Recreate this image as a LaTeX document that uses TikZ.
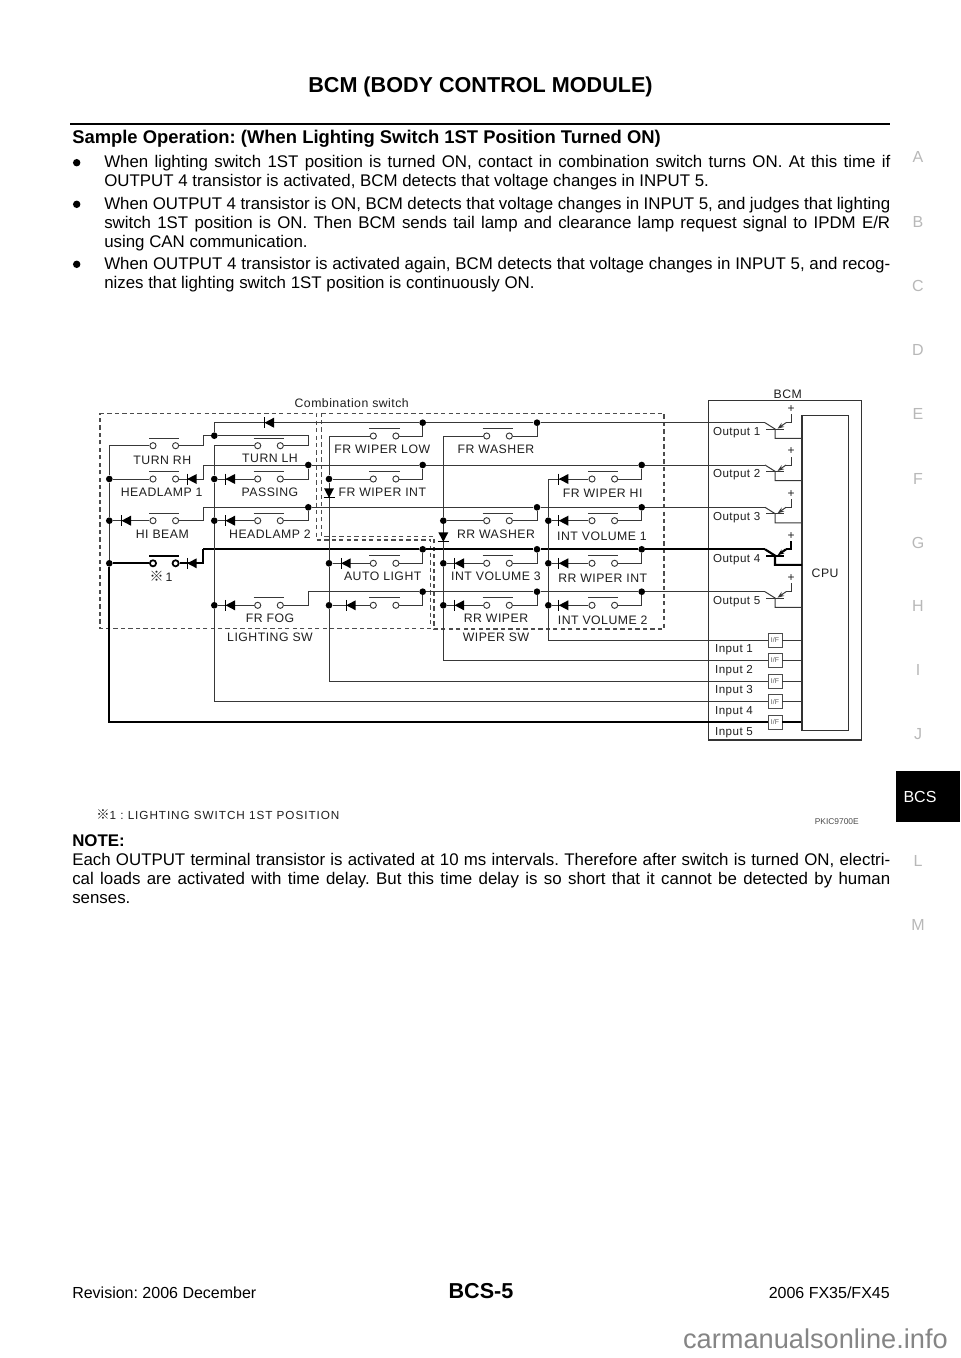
\documentclass[tikz,border=0pt]{standalone}
\usepackage{fontspec}
\usepackage{xcolor}
\usetikzlibrary{calc}
\usetikzlibrary{arrows.meta}
\setmainfont{Liberation Sans}
\newfontfamily\labfont[LetterSpace=4]{Liberation Sans}
\newfontfamily\capfont[LetterSpace=8]{Liberation Sans}
\newfontfamily\markfont{Noto Sans CJK SC}
\AtBeginDocument{\frenchspacing}
\tikzset{
  wire/.style={draw=black!78,line width=0.75pt},
  heavywire/.style={draw=black,line width=1.6pt},
  swbox/.style={draw=black!70,line width=0.8pt,dash pattern=on 3.2pt off 2.4pt},
  term/.style={circle,draw=black!78,fill=white,inner sep=0pt,minimum size=4.6pt,line width=0.7pt},
  heavyterm/.style={term,draw=black,line width=1.3pt},
  joint/.style={circle,fill=black,inner sep=0pt,minimum size=5pt},
  lab/.style={inner sep=0pt,text=black!88,font=\labfont\fontsize{9.2}{10}\selectfont},
  iolab/.style={inner sep=0pt,text=black!88,font=\labfont\fontsize{8.7}{10}\selectfont},
  ifbox/.style={draw=black!70,fill=white,inner sep=0pt,minimum size=10.5pt,line width=0.7pt,text=black!65,font=\fontsize{5.2}{6}\selectfont},
  side/.style={inner sep=0pt,text=black!28,font=\fontsize{12}{14}\selectfont},
  txt/.style={anchor=base west,inner sep=0pt,font=\fontsize{12}{14.25}\selectfont},
  para/.style={anchor=north west,inner sep=0pt,align=justify,font=\fontsize{12.65}{14.25}\selectfont},
  hdg/.style={anchor=base west,inner sep=0pt,font=\bfseries\fontsize{13.8}{16}\selectfont},
  bullet/.style={circle,fill=black,inner sep=0pt,minimum size=5.6pt}
}
% pair of contacts with the bar over them
\def\contact[#1](#2)(#3,#4){
  \node[#1] (#2a) at (#3,#4) {};
  \node[#1] (#2b) at (#3+22.6,#4) {};
  \draw[wire,#1wire] ($(#2a)+(-4,-7.4)$) -- ($(#2b)+(3.6,-7.4)$);
}
\tikzset{termwire/.style={},heavytermwire/.style={heavywire,line width=1.3pt}}
\def\diode(#1)(#2){\begin{scope}[shift={(#1)},rotate=#2]
  \fill[black] (-4.5,0) -- (5,-5) -- (5,5) -- cycle;
  \draw[black,line width=0.8pt] (-4.5,-5.5) -- (-4.5,5.5);
\end{scope}}
\def\transistor[#1](#2)(#3){
  \coordinate (#2) at (765,#3);
  \draw[#1] (766,#3+6.3) -- (784,#3+6.3);
  \draw[#1] (#2) -- (775,#3+6.3) -- (775,#3+15.6) -- (802,#3+15.6);
  \draw[#1] (786,#3) -- (791,#3) -- (791,#3-8.4);
  \draw[#1,-{Stealth[length=5pt,width=3.6pt]}] (786,#3) -- (777.5,#3+6);
  \node[lab,font=\fontsize{9}{10}\selectfont] (#2plus) at (791,#3-13.6) {+};
}

\begin{document}
\begin{tikzpicture}[x=0.75pt,y=-0.75pt]
  \path[use as bounding box,fill=white] (0,0) rectangle (960,1358);
  % page head
  \node[anchor=base,inner sep=0pt,font=\bfseries\fontsize{16.2}{18}\selectfont] (title) at (480.5,92.7) {BCM (BODY CONTROL MODULE)};
  \coordinate (ruleL) at (70,124.3);
  \coordinate (ruleR) at (890,124.3);
  \draw[line width=1.5pt] (ruleL) -- (ruleR);
  \node[hdg] (head) at (72,144) {Sample Operation: (When Lighting Switch 1ST Position Turned ON)};
  \node[bullet] (b1) at (76.7,162.7) {};
  \node[bullet] (b2) at (76.7,204.3) {};
  \node[bullet] (b3) at (76.7,264.3) {};
  \node[para,text width=589.5pt] (p1) at (104,154.4) {\strut When lighting switch 1ST position is turned ON, contact in combination switch turns ON. At this time if\linebreak OUTPUT 4 transistor is activated, BCM detects that voltage changes in INPUT 5.};
  \node[para,text width=589.5pt] (p2) at (104,196) {\strut When OUTPUT 4 transistor is ON, BCM detects that voltage changes in INPUT 5, and judges that lighting\linebreak switch 1ST position is ON. Then BCM sends tail lamp and clearance lamp request signal to IPDM E/R\linebreak using CAN communication.};
  \node[para,text width=589.5pt] (p3) at (104,256) {\strut When OUTPUT 4 transistor is activated again, BCM detects that voltage changes in INPUT 5, and recog-\linebreak nizes that lighting switch 1ST position is continuously ON.};
  % side index
  \foreach \s/\ly in {A/157,B/222,C/286,D/350,E/414,F/479,G/543,H/606,I/670,J/734,L/861,M/925}
    \node[side] (idx\s) at (918,\ly) {\s};
  \fill[black] (896,771) rectangle (960,822);
  \node[side,text=white] (idxBCS) at (920,797) {BCS};

  % dashed switch housings
  \draw[swbox] (100,413.3) -- (316.7,413.3) -- (316.7,540) -- (430.7,540) -- (430.7,628.3) -- (100,628.3) -- cycle;
  \draw[swbox] (321.7,413.3) -- (664,413.3) -- (664,629) -- (434,629) -- (434,536.7) -- (321.7,536.7) -- cycle;
  \node[lab] (comb) at (351.7,402.7) {Combination switch};

  % BCM
  \node[draw=black!80,line width=0.8pt,minimum width=115.05pt,minimum height=254.5pt,inner sep=0pt] (bcm) at (785,570.35) {};
  \node[lab] (bcmlab) at (787.7,394.7) {BCM};
  \node[draw=black!80,line width=0.8pt,minimum width=34.7pt,minimum height=236.5pt,inner sep=0pt,lab] (cpu) at (825.15,572.85) {CPU};
  \foreach \n/\ty/\st in {1/422.7/wire,2/465/wire,3/507.3/wire,4/549.3/heavywire,5/591.7/wire}{
    \transistor[\st](t\n)(\ty)
    \node[iolab] (out\n) at (736.7,\ty+10) {Output \n};
  }
  \foreach \n/\iy in {1/640,2/660.3,3/681,4/701.7,5/722.3}{
    \node[ifbox] (if\n) at (775,\iy) {I/F};
    \node[iolab] (in\n) at (734,\iy+10) {Input \n};
  }

  % contacts
  \contact[term](turnrh)(153,445.7)
  \contact[term](headA)(153,479)
  \contact[term](hibeam)(153,520.7)
  \contact[heavyterm](first)(153,563.3)
  \contact[term](turnlh)(257.7,445.7)
  \contact[term](passing)(257.7,479)
  \contact[term](headB)(257.7,520.7)
  \contact[term](frfog)(257.7,605.3)
  \contact[term](frlow)(373.3,436)
  \contact[term](frint)(373.3,479)
  \contact[term](auto)(373.3,563.3)
  \contact[term](blank)(373.3,605.3)
  \contact[term](frwash)(486.7,436)
  \contact[term](rrwash)(486.7,520.7)
  \contact[term](volC)(486.7,563.3)
  \contact[term](rrwiper)(486.7,605.3)
  \contact[term](frhi)(592,479)
  \contact[term](volA)(592,520.7)
  \contact[term](rrint)(592,563.3)
  \contact[term](volB)(592,605.3)

  % joints on the output lines
  \foreach \nm/\jx/\jy in {jA1/422.7/422.7,jA2/537/422.7,jB1/308.3/465,jB2/422.7/465,jB3/641.7/465,
      jC1/308.3/507.3,jC2/537/507.3,jC3/641.7/507.3,jD1/422.7/549.3,jD2/537/549.3,jD3/641.7/549.3,
      jE1/422.7/591.7,jE2/537/591.7,jE3/641.7/591.7,
      jTop/214.3/435.7,
      a1/109.3/479,a2/109.3/520.7,a3/109.3/563.3,
      b1j/214.3/479,b2j/214.3/520.7,b3j/214.3/605.3,
      c1/329/479,c2/329/563.3,c3/329/605.3,
      d1/443.3/520.7,d2/443.3/563.3,d3/443.3/605.3,
      e1/548.3/520.7,e2/548.3/563.3,e3/548.3/605.3}
    \node[joint] (\nm) at (\jx,\jy) {};
  \coordinate (lA) at (214.3,422.7);
  \coordinate (lB) at (203.3,465);
  \coordinate (lC) at (203.3,507.3);
  \coordinate (lD) at (203.3,549.3);
  \coordinate (lE) at (308.3,591.7);
  \coordinate (lTop) at (203.3,435.7);
  \coordinate (rTop) at (308.3,435.7);

  % output lines
  \draw[wire] (lA) -- (jA1) -- (jA2) -- (t1);
  \draw[wire] (lB) -- (jB1) -- (jB2) -- (jB3) -- (t2);
  \draw[wire] (lC) -- (jC1) -- (jC2) -- (jC3) -- (t3);
  \draw[heavywire] (lD) -- (jD1) -- (jD2) -- (jD3) -- (t4);
  \draw[wire] (lE) -- (jE1) -- (jE2) -- (jE3) -- (t5);

  % input lines
  \draw[wire] (turnrha) -- (109.3,445.7) -- (a1) -- (a2) -- (a3);
  \draw[heavywire] (a3) -- (109.3,722.3) -- (if5) -- (if5 -| cpu.west);
  \draw[wire] (lA) -- (jTop);
  \draw[wire] (turnlha) -- (214.3,445.7) -- (b1j) -- (b2j) -- (b3j) -- (214.3,701.7) -- (if4) -- (if4 -| cpu.west);
  \draw[wire] (frlowa) -- (329,436) -- (c1) -- (c2) -- (c3) -- (329,681) -- (if3) -- (if3 -| cpu.west);
  \draw[wire] (frwasha) -- (443.3,436) -- (d1) -- (d2) -- (d3) -- (443.3,660.3) -- (if2) -- (if2 -| cpu.west);
  \draw[wire] (frhia) -- (548.3,479) -- (e1) -- (e2) -- (e3) -- (548.3,640) -- (if1) -- (if1 -| cpu.west);

  % switch rows
  \draw[wire] (turnrhb) -| (lTop) -- (jTop) -- (rTop) |- (turnlhb);
  \draw[wire] (a1) -- (headAa);
  \draw[wire] (headAb) -| (lB);
  \draw[wire] (a2) -- (hibeama);
  \draw[wire] (hibeamb) -| (lC);
  \draw[heavywire] (a3) -- (firsta);
  \draw[heavywire] (firstb) -| (lD);
  \foreach \j/\sw/\up in {b1j/passing/jB1,b2j/headB/jC1,b3j/frfog/lE,
      c1/frint/jB2,c2/auto/jD1,c3/blank/jE1,
      d1/rrwash/jC2,d2/volC/jD2,d3/rrwiper/jE2,
      e1/volA/jC3,e2/rrint/jD3,e3/volB/jE3}{
    \draw[wire] (\j) -- (\sw a);
    \draw[wire] (\sw b) -| (\up);
  }
  \draw[wire] (frlowb) -| (jA1);
  \draw[wire] (frwashb) -| (jA2);
  \draw[wire] (frhib) -| (jB3);

  % diodes
  \foreach \dx/\dy in {269/422.7,191.7/479,126/520.7,191.7/563.3,230/479,230/520.7,230/605.3,
      345.7/563.3,350.7/605.3,459/563.3,459/605.3,563.3/479,563.3/520.7,563.3/563.3,563.3/605.3}{
    \diode(\dx,\dy)(0)
  }
  \diode(329,493.3)(90)
  \diode(443.3,537.3)(90)

  % switch labels
  \foreach \nm/\lx/\ly/\tx in {turnrhL/162.3/460/TURN RH,headAL/161.7/492.7/HEADLAMP 1,hibeamL/162.3/534/HI BEAM,
      turnlhL/270/458.3/TURN LH,passingL/270/492.3/PASSING,headBL/270/534.3/HEADLAMP 2,frfogL/270/618.3/FR FOG,
      lightL/270/637.3/LIGHTING SW,frlowL/382.3/449.3/FR WIPER LOW,frintL/382.3/492.3/FR WIPER INT,autoL/382.7/576/AUTO LIGHT,
      frwashL/496/449.3/FR WASHER,rrwashL/496/534/RR WASHER,volCL/496/576/INT VOLUME 3,rrwiperL/496/618.3/RR WIPER,
      wiperL/496/637.3/WIPER SW,frhiL/602.7/493.3/FR WIPER HI,volAL/602/536/INT VOLUME 1,rrintL/602.7/578.3/RR WIPER INT,
      volBL/602.7/620.7/INT VOLUME 2}
    \node[lab] (\nm) at (\lx,\ly) {\tx};
  \node[lab] (firstL) at (161,576.3) {{\markfont\fontsize{10.5}{11}\selectfont ※}\,1};

  % notes under the diagram
  \node[lab,font=\capfont\fontsize{8.8}{10}\selectfont,anchor=base west] (caption) at (96,819) {{\markfont\fontsize{10}{11}\selectfont ※}1 : LIGHTING SWITCH 1ST POSITION};
  \node[anchor=base east,inner sep=0pt,text=black!70,font=\fontsize{6.3}{8}\selectfont] (code) at (859,824.7) {PKIC9700E};
  \node[hdg,font=\bfseries\fontsize{12.65}{16}\selectfont] (note) at (72,846.7) {NOTE:};
  \node[para,text width=613.5pt] (p4) at (72,851.7) {\strut Each OUTPUT terminal transistor is activated at 10 ms intervals. Therefore after switch is turned ON, electri-\linebreak cal loads are activated with time delay. But this time delay is so short that it cannot be detected by human\linebreak senses.};

  % foot
  \node[txt] (rev) at (72,1298) {Revision: 2006 December};
  \node[anchor=base,inner sep=0pt,font=\bfseries\fontsize{16.2}{18}\selectfont] (page) at (481,1298) {BCS-5};
  \node[txt,anchor=base east] (model) at (890,1298) {2006 FX35/FX45};
  \node[anchor=base east,inner sep=0pt,text=black!48,font=\fontsize{20.4}{24}\selectfont] (mark) at (948,1348) {carmanualsonline.info};
\end{tikzpicture}
\end{document}
